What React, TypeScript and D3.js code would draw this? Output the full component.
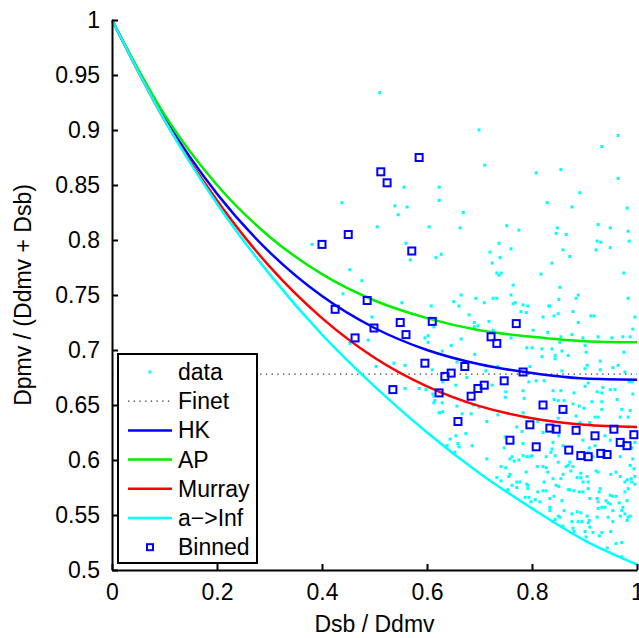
import React, { useEffect, useRef } from 'react';
import * as d3 from 'd3';

const curveX = [0, 0.1, 0.2, 0.3, 0.4, 0.5, 0.6, 0.7, 0.8, 0.9, 1];
const hkY = [1, 0.911, 0.842, 0.789, 0.749, 0.72, 0.7, 0.687, 0.679, 0.674, 0.673];
const apY = [1, 0.914, 0.85, 0.803, 0.769, 0.745, 0.729, 0.718, 0.712, 0.708, 0.707];
const murrayY = [1, 0.909, 0.836, 0.776, 0.729, 0.693, 0.667, 0.649, 0.638, 0.632, 0.63];
const aInfY = [1, 0.909, 0.833, 0.769, 0.714, 0.667, 0.625, 0.588, 0.556, 0.527, 0.505];
const finetY = 0.678;

const binnedX = [0.4, 0.425, 0.45, 0.463, 0.486, 0.499, 0.512, 0.524, 0.535, 0.549, 0.56, 0.571, 0.585, 0.596,
  0.61, 0.623, 0.634, 0.646, 0.659, 0.672, 0.684, 0.697, 0.709, 0.722, 0.733, 0.747, 0.758, 0.77, 0.783,
  0.796, 0.808, 0.821, 0.834, 0.846, 0.859, 0.87, 0.884, 0.893, 0.907, 0.92, 0.931, 0.943, 0.956, 0.968,
  0.981, 0.994];
const binnedY = [0.796, 0.737, 0.805, 0.711, 0.745, 0.72, 0.862, 0.852, 0.664, 0.725, 0.714, 0.79, 0.875, 0.688,
  0.726, 0.661, 0.676, 0.679, 0.635, 0.685, 0.658, 0.665, 0.668, 0.712, 0.706, 0.672, 0.618, 0.724, 0.68,
  0.632, 0.612, 0.65, 0.629, 0.628, 0.646, 0.609, 0.627, 0.604, 0.603, 0.622, 0.606, 0.605, 0.628, 0.616,
  0.613, 0.623];

const dataPoints: [number, number][] = [
  [0.51, 0.934], [0.699, 0.9], [0.964, 0.895], [0.933, 0.885], [0.71, 0.868], [0.808, 0.861], [0.855, 0.864],
  [0.964, 0.856], [0.556, 0.848], [0.623, 0.848], [0.891, 0.843], [0.623, 0.836], [0.539, 0.831], [0.562, 0.83],
  [0.829, 0.834], [0.876, 0.83], [0.981, 0.829], [0.669, 0.825], [0.545, 0.823], [0.604, 0.812], [0.663, 0.811],
  [0.752, 0.813], [0.775, 0.809], [0.848, 0.811], [0.846, 0.806], [0.865, 0.805], [0.926, 0.814], [0.949, 0.811],
  [0.983, 0.808], [0.924, 0.799], [0.931, 0.798], [0.985, 0.799], [0.56, 0.797], [0.737, 0.797], [0.76, 0.792],
  [0.72, 0.789], [0.859, 0.791], [0.922, 0.791], [0.949, 0.793], [0.568, 0.782], [0.617, 0.784], [0.627, 0.787],
  [0.739, 0.784], [0.724, 0.779], [0.872, 0.785], [0.838, 0.779], [0.733, 0.77], [0.741, 0.77], [0.737, 0.768],
  [0.817, 0.769], [0.975, 0.77], [0.764, 0.759], [0.853, 0.757], [0.552, 0.743], [0.608, 0.74], [0.665, 0.75],
  [0.651, 0.744], [0.661, 0.74], [0.693, 0.747], [0.709, 0.743], [0.726, 0.747], [0.733, 0.747], [0.76, 0.75],
  [0.764, 0.742], [0.768, 0.743], [0.783, 0.741], [0.792, 0.74], [0.779, 0.735], [0.789, 0.734], [0.802, 0.718],
  [0.68, 0.732], [0.69, 0.725], [0.697, 0.722], [0.69, 0.721], [0.718, 0.726], [0.726, 0.718], [0.613, 0.721],
  [0.596, 0.711], [0.602, 0.713], [0.821, 0.73], [0.832, 0.74], [0.834, 0.74], [0.842, 0.731], [0.85, 0.733],
  [0.851, 0.746], [0.83, 0.716], [0.878, 0.735], [0.888, 0.75], [0.884, 0.747], [0.888, 0.725], [0.876, 0.714],
  [0.897, 0.711], [0.912, 0.731], [0.918, 0.731], [0.926, 0.712], [0.983, 0.747], [0.996, 0.73], [0.992, 0.719],
  [0.952, 0.711], [0.855, 0.712], [0.76, 0.711], [0.665, 0.71],
  [0.438, 0.834], [0.505, 0.812], [0.381, 0.796], [0.453, 0.773], [0.476, 0.763], [0.44, 0.751], [0.495, 0.73],
  [0.488, 0.709], [0.503, 0.685], [0.537, 0.688], [0.585, 0.665], [0.598, 0.664], [0.613, 0.658], [0.613, 0.652],
  [0.625, 0.643], [0.629, 0.652], [0.453, 0.706],
  [0.602, 0.707], [0.646, 0.704], [0.629, 0.699], [0.691, 0.696], [0.558, 0.686], [0.61, 0.682], [0.657, 0.689],
  [0.712, 0.681], [0.735, 0.685], [0.676, 0.675], [0.655, 0.668], [0.558, 0.665], [0.63, 0.671], [0.724, 0.668],
  [0.75, 0.662], [0.749, 0.657], [0.611, 0.66], [0.615, 0.654], [0.623, 0.643], [0.63, 0.644], [0.657, 0.649],
  [0.688, 0.65], [0.699, 0.648], [0.735, 0.641], [0.684, 0.642], [0.714, 0.635], [0.667, 0.642], [0.655, 0.622],
  [0.659, 0.615], [0.674, 0.624], [0.686, 0.613], [0.747, 0.611], [0.638, 0.613], [0.653, 0.607], [0.749, 0.621],
  [0.973, 0.712], [0.987, 0.712], [0.853, 0.707], [0.901, 0.704], [0.79, 0.702], [0.8, 0.702], [0.819, 0.701],
  [0.838, 0.701], [0.857, 0.699], [0.869, 0.695], [0.844, 0.695], [0.844, 0.692], [0.819, 0.694], [0.903, 0.698],
  [0.975, 0.698], [0.93, 0.69], [0.905, 0.686], [0.901, 0.683], [0.964, 0.686], [0.796, 0.685], [0.857, 0.681],
  [0.93, 0.682], [0.977, 0.68], [0.954, 0.684], [0.794, 0.671], [0.808, 0.672], [0.823, 0.672], [0.783, 0.663],
  [0.84, 0.663], [0.855, 0.663], [0.907, 0.67], [0.935, 0.666], [0.949, 0.664], [0.958, 0.664], [0.985, 0.671],
  [0.99, 0.671], [0.901, 0.667], [0.88, 0.661], [0.924, 0.662], [0.933, 0.661], [0.785, 0.656], [0.842, 0.655],
  [0.85, 0.654], [0.861, 0.654], [0.914, 0.653], [0.933, 0.653], [0.962, 0.655], [0.992, 0.66], [0.878, 0.651],
  [0.89, 0.649], [0.899, 0.647], [0.933, 0.646], [0.971, 0.646], [0.987, 0.645], [0.884, 0.64], [0.92, 0.639],
  [0.926, 0.639], [0.968, 0.639], [0.983, 0.639], [0.891, 0.634], [0.91, 0.634], [0.861, 0.643], [0.85, 0.638],
  [0.783, 0.643], [0.785, 0.639], [0.771, 0.63], [0.811, 0.635], [0.781, 0.626], [0.821, 0.625], [0.851, 0.622],
  [0.897, 0.618], [0.939, 0.622], [0.949, 0.618], [0.783, 0.615], [0.84, 0.616], [0.838, 0.61], [0.859, 0.613],
  [0.909, 0.611], [0.907, 0.607], [0.92, 0.613], [0.996, 0.616], [0.99, 0.611],
  [0.762, 0.603], [0.783, 0.604], [0.79, 0.603], [0.796, 0.603], [0.8, 0.604], [0.827, 0.603], [0.836, 0.607],
  [0.844, 0.604], [0.85, 0.598], [0.916, 0.603], [0.968, 0.603], [0.992, 0.601], [0.758, 0.587], [0.771, 0.58],
  [0.777, 0.58], [0.789, 0.589], [0.81, 0.594], [0.821, 0.594], [0.827, 0.593], [0.83, 0.589], [0.84, 0.583],
  [0.855, 0.583], [0.859, 0.587], [0.865, 0.594], [0.869, 0.595], [0.872, 0.598], [0.874, 0.59], [0.878, 0.594],
  [0.886, 0.584], [0.893, 0.588], [0.893, 0.584], [0.897, 0.58], [0.905, 0.585], [0.907, 0.58], [0.922, 0.59],
  [0.926, 0.589], [0.95, 0.587], [0.96, 0.589], [0.968, 0.585], [0.977, 0.58], [0.981, 0.582], [0.989, 0.583],
  [0.99, 0.58], [0.996, 0.585], [0.994, 0.592], [0.987, 0.595], [0.79, 0.578], [0.792, 0.574], [0.821, 0.572],
  [0.823, 0.58], [0.827, 0.572], [0.851, 0.576], [0.842, 0.567], [0.869, 0.573], [0.872, 0.573], [0.88, 0.572],
  [0.89, 0.571], [0.897, 0.571], [0.907, 0.574], [0.93, 0.574], [0.928, 0.571], [0.949, 0.568], [0.954, 0.567],
  [0.96, 0.567], [0.977, 0.571], [0.983, 0.574], [0.996, 0.578], [0.794, 0.566], [0.806, 0.564], [0.815, 0.562],
  [0.834, 0.565], [0.857, 0.563], [0.91, 0.565], [0.924, 0.565], [0.926, 0.562], [0.941, 0.563], [0.945, 0.561],
  [0.949, 0.56], [0.966, 0.561], [0.981, 0.563], [0.926, 0.556], [0.933, 0.557], [0.939, 0.557], [0.954, 0.554],
  [0.973, 0.557], [0.971, 0.554], [0.968, 0.549], [0.977, 0.551], [0.983, 0.548], [0.981, 0.545], [0.987, 0.549],
  [0.834, 0.554], [0.861, 0.554], [0.876, 0.551], [0.886, 0.553], [0.893, 0.552], [0.905, 0.549], [0.909, 0.545],
  [0.924, 0.548], [0.945, 0.548], [0.954, 0.544], [0.853, 0.548], [0.844, 0.546], [0.84, 0.544], [0.85, 0.549],
  [0.876, 0.544], [0.888, 0.544], [0.895, 0.544], [0.907, 0.543], [0.91, 0.539], [0.859, 0.54], [0.878, 0.538],
  [0.88, 0.535], [0.901, 0.535], [0.916, 0.534], [0.933, 0.534], [0.95, 0.535], [0.903, 0.53], [0.928, 0.531],
  [0.96, 0.524], [0.971, 0.525], [0.943, 0.52], [0.971, 0.512],
  [0.644, 0.619], [0.661, 0.612], [0.714, 0.601], [0.758, 0.601], [0.766, 0.599], [0.775, 0.6], [0.741, 0.594],
  [0.75, 0.593], [0.756, 0.585], [0.733, 0.584], [0.741, 0.581], [0.762, 0.577], [0.771, 0.575], [0.754, 0.573],
  [0.792, 0.577], [0.787, 0.566], [0.798, 0.562], [0.834, 0.557], [0.811, 0.571], [0.846, 0.577],
];

const xTicks = [0, 0.2, 0.4, 0.6, 0.8, 1];
const yTicks = [0.5, 0.55, 0.6, 0.65, 0.7, 0.75, 0.8, 0.85, 0.9, 0.95, 1];

const legendLabels = ['data', 'Finet', 'HK', 'AP', 'Murray', 'a\u2212>Inf', 'Binned'];

const W = 639;
const H = 638;
const FONT = "'Liberation Sans', Arial, Helvetica, sans-serif";

const App = () => {
  const svgRef = useRef<SVGSVGElement>(null);

  useEffect(() => {
    const svg = d3.select(svgRef.current);
    svg.selectAll('*').remove();

    const margin = { top: 20, right: 2, bottom: 68, left: 112 };
    const x = d3.scaleLinear().domain([0, 1]).range([margin.left, W - margin.right]);
    const y = d3.scaleLinear().domain([0.5, 1]).range([H - margin.bottom, margin.top]);

    // scatter of raw data (matlab '.' marker, ~3px square)
    const dot = 3;
    svg.append('g')
      .selectAll('rect')
      .data(dataPoints)
      .enter().append('rect')
      .attr('x', d => x(d[0]) - dot / 2)
      .attr('y', d => y(d[1]) - dot / 2)
      .attr('width', dot)
      .attr('height', dot)
      .attr('fill', '#00ffff');

    // Finet constant
    svg.append('line')
      .attr('x1', x(0)).attr('x2', x(1))
      .attr('y1', y(finetY)).attr('y2', y(finetY))
      .attr('stroke', '#333')
      .attr('stroke-width', 1.3)
      .attr('stroke-dasharray', '1.3,4.4');

    const line = d3.line<number>()
      .x((_, i) => x(curveX[i]))
      .y(d => y(d))
      .curve(d3.curveMonotoneX);

    const curves: [number[], string][] = [
      [hkY, '#0000ff'],
      [apY, '#00ee00'],
      [murrayY, '#ff0000'],
      [aInfY, '#00ffff'],
    ];
    curves.forEach(([vals, color]) => {
      svg.append('path')
        .datum(vals)
        .attr('fill', 'none')
        .attr('stroke', color)
        .attr('stroke-width', 2.5)
        .attr('d', line);
    });

    // binned means
    const sq = 7;
    svg.append('g')
      .selectAll('rect')
      .data(binnedX)
      .enter().append('rect')
      .attr('x', d => x(d) - sq / 2)
      .attr('y', (_, i) => y(binnedY[i]) - sq / 2)
      .attr('width', sq)
      .attr('height', sq)
      .attr('fill', 'none')
      .attr('stroke', '#0000ff')
      .attr('stroke-width', 2);

    // axes
    const yAxis = svg.append('g')
      .attr('transform', `translate(${x(0)},0)`)
      .call(d3.axisLeft(y).tickValues(yTicks).tickFormat(d => String(d)).tickSizeInner(-6).tickSizeOuter(0).tickPadding(12));
    const xAxis = svg.append('g')
      .attr('transform', `translate(0,${y(0.5)})`)
      .call(d3.axisBottom(x).tickValues(xTicks).tickFormat(d => String(d)).tickSizeInner(-6).tickSizeOuter(0).tickPadding(14));
    [yAxis, xAxis].forEach(g => {
      g.attr('font-size', 23).attr('font-family', FONT);
      g.select('.domain').attr('stroke', '#000').attr('stroke-width', 2);
      g.selectAll('.tick line').attr('stroke', '#000').attr('stroke-width', 2);
      g.selectAll('.tick text').attr('fill', '#000');
    });

    svg.append('text')
      .attr('x', (x(0) + x(1)) / 2)
      .attr('y', 632)
      .attr('text-anchor', 'middle')
      .attr('font-size', 23)
      .attr('font-family', FONT)
      .text('Dsb / Ddmv');

    svg.append('text')
      .attr('transform', `translate(31,${(y(0.5) + y(1)) / 2}) rotate(-90)`)
      .attr('text-anchor', 'middle')
      .attr('font-size', 23)
      .attr('font-family', FONT)
      .text('Dpmv / (Ddmv + Dsb)');

    // legend
    const lg = svg.append('g');
    lg.append('rect')
      .attr('x', 118).attr('y', 354)
      .attr('width', 139).attr('height', 209)
      .attr('fill', '#fff')
      .attr('stroke', '#000')
      .attr('stroke-width', 2);
    legendLabels.forEach((label, i) => {
      const cy = 372 + i * 29.2;
      if (i === 0) {
        lg.append('rect').attr('x', 148.5).attr('y', cy - 1.5).attr('width', 3).attr('height', 3).attr('fill', '#00ffff');
      } else if (i === 1) {
        lg.append('line').attr('x1', 128).attr('x2', 172).attr('y1', cy).attr('y2', cy)
          .attr('stroke', '#333').attr('stroke-width', 1.3).attr('stroke-dasharray', '1.3,4.4');
      } else if (i === 6) {
        lg.append('rect').attr('x', 147).attr('y', cy - 3).attr('width', 6).attr('height', 6)
          .attr('fill', 'none').attr('stroke', '#0000ff').attr('stroke-width', 2);
      } else {
        lg.append('line').attr('x1', 128).attr('x2', 172).attr('y1', cy).attr('y2', cy)
          .attr('stroke', curves[i - 2][1]).attr('stroke-width', 2.5);
      }
      lg.append('text')
        .attr('x', 178)
        .attr('y', cy + 8)
        .attr('font-size', 23)
        .attr('font-family', FONT)
        .text(label);
    });
  }, []);

  return (
    <svg ref={svgRef} width={W} height={H}
      style={{ position: 'absolute', left: 0, top: 0, background: '#fff' }} />
  );
};

export default App;
